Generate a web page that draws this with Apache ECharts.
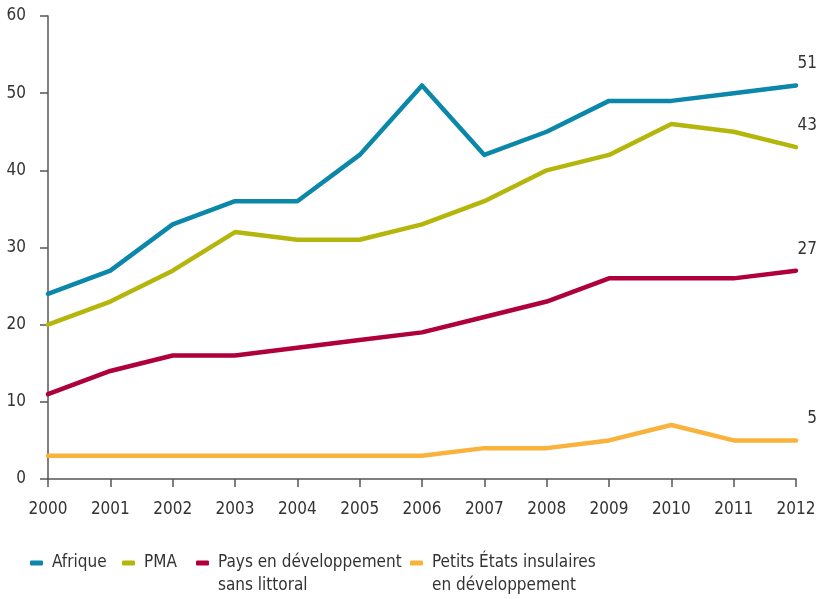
<!DOCTYPE html>
<html><head><meta charset="utf-8">
<script src="https://cdn.jsdelivr.net/npm/echarts@6/dist/echarts.min.js"></script>
<style>html,body{margin:0;padding:0;background:#fff}#c{width:822px;height:599px}</style>
</head><body><div id="c"></div>
<script>
const years = ['2000','2001','2002','2003','2004','2005','2006','2007','2008','2009','2010','2011','2012'];
const seriesNames = ['Afrique', 'PMA', 'Pays en développement\nsans littoral', 'Petits États insulaires\nen développement'];
const afrique = [24, 27, 33, 36, 36, 42, 51, 42, 45, 49, 49, 50, 51];
const pma = [20, 23, 27, 32, 31, 31, 33, 36, 40, 42, 46, 45, 43];
const sansLittoral = [11, 14, 16, 16, 17, 18, 19, 21, 23, 26, 26, 26, 27];
const petitsEtats = [3, 3, 3, 3, 3, 3, 3, 4, 4, 5, 7, 5, 5];
const colors = ['#0a87a9', '#b4b60c', '#b0003a', '#f9b23b'];
const FONT = "'Liberation Sans Narrow', 'DejaVu Sans Condensed', 'Open Sans', sans-serif";

function mkSeries(name, arr, color) {
  return {
    name, type: 'line', data: arr, symbol: 'none',
    lineStyle: { width: 4.5, color, cap: 'round', join: 'round' },
    itemStyle: { color },
    endLabel: { show: true, distance: 0, align: 'right', verticalAlign: 'bottom', offset: [21, -13],
      formatter: p => String(p.value), fontFamily: FONT, fontSize: 17, color: '#333' },
    emphasis: { disabled: true }, animation: false
  };
}
const legendPos = [[30, 563], [122, 563], [196, 563], [410, 563]];
const legends = seriesNames.map((n, i) => {
  const multi = n.includes('\n');
  return {
    data: [n], left: legendPos[i][0], top: legendPos[i][1] - (multi ? 34.5 : 11.5),
    padding: 0,
    icon: 'roundRect', itemWidth: 13, itemHeight: 5, itemGap: 0,
    selectedMode: false,
    formatter: multi ? (name => ' \n' + name) : (name => name),
    textStyle: { fontFamily: FONT, fontSize: 17, color: '#333', lineHeight: 23, padding: [0, 0, 0, 4] }
  };
});
const chart = echarts.init(document.getElementById('c'), null, { renderer: 'canvas' });
chart.setOption({
  animation: false,
  color: colors,
  grid: { left: 48, right: 26, top: 16, bottom: 120, containLabel: false },
  legend: legends,
  xAxis: {
    type: 'category', data: years, boundaryGap: false,
    axisLine: { lineStyle: { color: '#555', width: 1.5 } },
    axisTick: { show: true, length: 8, lineStyle: { color: '#555', width: 1.5 } },
    axisLabel: { margin: 22, fontFamily: FONT, fontSize: 17, color: '#333', interval: 0 },
    splitLine: { show: false }
  },
  yAxis: {
    type: 'value', min: 0, max: 60, interval: 10,
    axisLine: { show: true, lineStyle: { color: '#555', width: 1.5 } },
    axisTick: { show: true, length: 8, lineStyle: { color: '#555', width: 1.5 } },
    axisLabel: { margin: 22, fontFamily: FONT, fontSize: 17, color: '#333' },
    splitLine: { show: false }
  },
  series: [
    mkSeries(seriesNames[0], afrique, colors[0]),
    mkSeries(seriesNames[1], pma, colors[1]),
    mkSeries(seriesNames[2], sansLittoral, colors[2]),
    mkSeries(seriesNames[3], petitsEtats, colors[3])
  ]
});
</script></body></html>
